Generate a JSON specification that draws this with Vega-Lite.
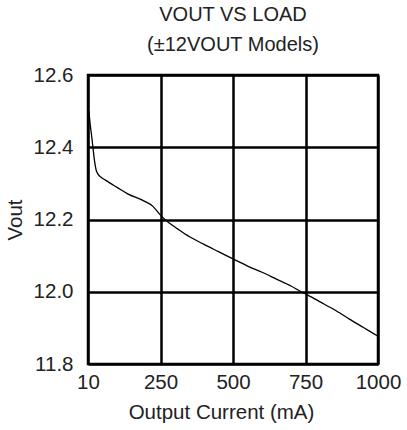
{
  "$schema": "https://vega.github.io/schema/vega-lite/v6.json",
  "width": 290,
  "height": 289,
  "autosize": {"type": "none"},
  "padding": {"left": 88, "top": 75, "right": 29, "bottom": 66},
  "background": "white",
  "title": {
    "text": ["VOUT VS LOAD", "(±12VOUT Models)"],
    "anchor": "middle",
    "frame": "group",
    "font": "Liberation Sans",
    "fontSize": 20,
    "fontWeight": "normal",
    "color": "#222",
    "lineHeight": 30,
    "baseline": "alphabetic",
    "offset": -6
  },
  "config": {
    "view": {"stroke": "black", "strokeWidth": 2.5},
    "axis": {
      "labelFont": "Liberation Sans",
      "titleFont": "Liberation Sans",
      "labelColor": "#222",
      "titleColor": "#222",
      "labelFontSize": 20.5,
      "titleFontSize": 20.5,
      "titleFontWeight": "normal",
      "grid": true,
      "gridColor": "black",
      "gridWidth": 2.5,
      "gridOpacity": 1,
      "ticks": false,
      "domain": false
    }
  },
  "data": {
    "values": [
      {"current": 3, "vout": 12.5},
      {"current": 8, "vout": 12.46},
      {"current": 12, "vout": 12.435},
      {"current": 17, "vout": 12.4},
      {"current": 22, "vout": 12.365},
      {"current": 28, "vout": 12.337},
      {"current": 35, "vout": 12.325},
      {"current": 45, "vout": 12.317},
      {"current": 60, "vout": 12.309},
      {"current": 100, "vout": 12.289},
      {"current": 137, "vout": 12.271},
      {"current": 194, "vout": 12.251},
      {"current": 223, "vout": 12.237},
      {"current": 250, "vout": 12.212},
      {"current": 280, "vout": 12.19},
      {"current": 309, "vout": 12.174},
      {"current": 349, "vout": 12.153},
      {"current": 400, "vout": 12.131},
      {"current": 450, "vout": 12.111},
      {"current": 500, "vout": 12.091},
      {"current": 556, "vout": 12.069},
      {"current": 600, "vout": 12.054},
      {"current": 650, "vout": 12.035},
      {"current": 700, "vout": 12.016},
      {"current": 735, "vout": 12.0},
      {"current": 750, "vout": 11.994},
      {"current": 800, "vout": 11.972},
      {"current": 850, "vout": 11.95},
      {"current": 900, "vout": 11.925},
      {"current": 950, "vout": 11.901},
      {"current": 1000, "vout": 11.877}
    ]
  },
  "mark": {"type": "line", "color": "black", "strokeWidth": 1.3, "interpolate": "monotone"},
  "encoding": {
    "x": {
      "field": "current",
      "type": "quantitative",
      "scale": {"domain": [0, 1000], "nice": false},
      "axis": {
        "values": [0, 250, 500, 750, 1000],
        "format": "d",
        "labelExpr": "datum.value == 0 ? '10' : datum.label",
        "labelFlush": false,
        "title": "Output Current (mA)",
        "titleX": 133,
        "labelPadding": 8,
        "titlePadding": 10
      }
    },
    "y": {
      "field": "vout",
      "type": "quantitative",
      "scale": {"domain": [11.8, 12.6], "nice": false, "zero": false},
      "axis": {
        "values": [11.8, 12.0, 12.2, 12.4, 12.6],
        "format": ".1f",
        "title": "Vout",
        "labelPadding": 15,
        "titlePadding": 8
      }
    }
  }
}
